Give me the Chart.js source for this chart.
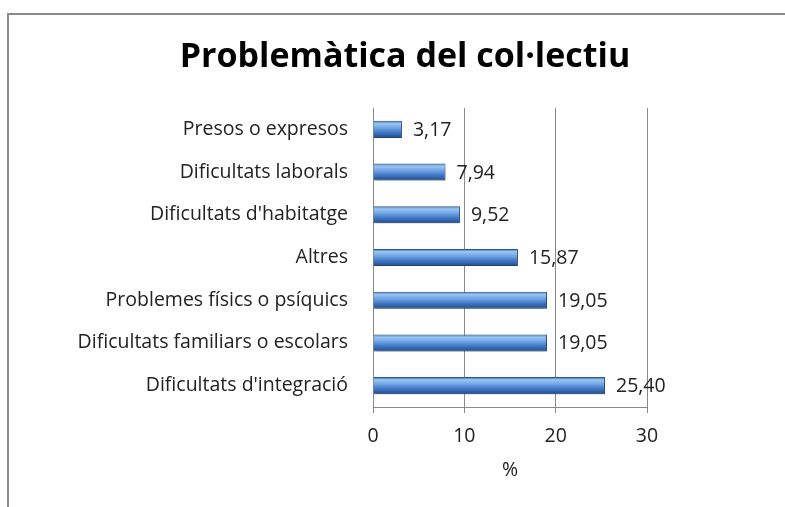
<!DOCTYPE html>
<html>
<head>
<meta charset="utf-8">
<script src="https://cdn.jsdelivr.net/npm/chart.js@4.4.1/dist/chart.umd.min.js"></script>
<style>
  html, body { margin: 0; padding: 0; background: #fff; }
  #wrap { width: 785px; height: 507px; position: relative; }
</style>
</head>
<body>
<div id="wrap"><canvas id="problematica"></canvas></div>
<script>
const categories = [
    'Presos o expresos',
    'Dificultats laborals',
    "Dificultats d'habitatge",
    'Altres',
    'Problemes físics o psíquics',
    'Dificultats familiars o escolars',
    "Dificultats d'integració"
];
const percentages = [3.17, 7.94, 9.52, 15.87, 19.05, 19.05, 25.40];
const xTicks = [0, 10, 20, 30];
const chartTitle = 'Problemàtica del col·lectiu';
const axisTitle = '%';

const FONT = '"Open Sans", sans-serif';
const LABEL_SIZE = 19.5;

function barGradient(context) {
    const chart = context.chart;
    if (!chart.chartArea) return '#4f81bd';
    const c = chart.scales.y.getPixelForValue(context.dataIndex);
    const half = 8.5;
    const g = chart.ctx.createLinearGradient(0, c - half, 0, c + half);
    g.addColorStop(0, '#2f5d99');
    g.addColorStop(0.15, '#9cc5f4');
    g.addColorStop(0.4, '#72a6e6');
    g.addColorStop(0.7, '#3f75c2');
    g.addColorStop(1, '#1f4c88');
    return g;
}

// white page, grey frame of the chart object and the centred title
const framePlugin = {
    id: 'frame',
    beforeDraw(chart) {
        const ctx = chart.ctx;
        ctx.save();
        ctx.fillStyle = '#fff';
        ctx.fillRect(0, 0, chart.width, chart.height);
        ctx.strokeStyle = '#8a8a8a';
        ctx.lineWidth = 2;
        ctx.beginPath();
        ctx.moveTo(8, chart.height);
        ctx.lineTo(8, 14);
        ctx.lineTo(chart.width, 14);
        ctx.stroke();
        ctx.font = 'bold 34px ' + FONT;
        ctx.fillStyle = '#000';
        ctx.textAlign = 'center';
        ctx.textBaseline = 'alphabetic';
        ctx.fillText(chartTitle, 405, 67);
        ctx.restore();
    }
};

const shadowPlugin = {
    id: 'barShadow',
    beforeDatasetsDraw(chart) {
        const ctx = chart.ctx;
        ctx.save();
        ctx.shadowColor = 'rgba(0,0,0,0.28)';
        ctx.shadowBlur = 4;
        ctx.shadowOffsetX = 1;
        ctx.shadowOffsetY = 3;
    },
    afterDatasetsDraw(chart) {
        chart.ctx.restore();
    }
};

const valueLabels = {
    id: 'valueLabels',
    afterDatasetsDraw(chart) {
        const ctx = chart.ctx;
        const meta = chart.getDatasetMeta(0);
        ctx.save();
        ctx.font = LABEL_SIZE + 'px ' + FONT;
        ctx.fillStyle = '#222';
        ctx.textAlign = 'left';
        ctx.textBaseline = 'middle';
        meta.data.forEach(function(bar, i) {
            const txt = percentages[i].toFixed(2).replace('.', ',');
            ctx.fillText(txt, bar.x + 11, bar.y + 1);
        });
        ctx.restore();
    }
};

new Chart(document.getElementById('problematica'), {
    type: 'bar',
    data: {
        labels: categories,
        datasets: [{
            data: percentages,
            backgroundColor: barGradient,
            borderColor: '#2b5892',
            borderWidth: 1,
            categoryPercentage: 0.4,
            barPercentage: 1.0
        }]
    },
    options: {
        indexAxis: 'y',
        responsive: true,
        maintainAspectRatio: false,
        animation: false,
        layout: { padding: { top: 108, left: 10, right: 138, bottom: 25 } },
        plugins: {
            legend: { display: false },
            tooltip: { enabled: false },
            title: { display: false }
        },
        scales: {
            x: {
                min: 0,
                max: 30,
                afterBuildTicks: function(scale) {
                    scale.ticks = xTicks.map(function(v) { return { value: v }; });
                },
                afterFit: function(scale) { scale.height = 75; },
                grid: {
                    color: '#8a8a8a',
                    lineWidth: 1,
                    drawTicks: true,
                    tickLength: 6
                },
                border: { display: true, color: '#8a8a8a', width: 1 },
                ticks: {
                    font: { family: FONT, size: LABEL_SIZE },
                    color: '#222',
                    padding: 12
                },
                title: {
                    display: true,
                    text: axisTitle,
                    color: '#222',
                    font: { family: FONT, size: LABEL_SIZE },
                    padding: 0
                }
            },
            y: {
                afterFit: function(scale) { scale.width = 363; },
                grid: { display: false, drawTicks: false },
                border: { display: true, color: '#8a8a8a', width: 1 },
                ticks: {
                    font: { family: FONT, size: LABEL_SIZE },
                    color: '#222',
                    padding: 25
                }
            }
        }
    },
    plugins: [framePlugin, shadowPlugin, valueLabels]
});
</script>
</body>
</html>
